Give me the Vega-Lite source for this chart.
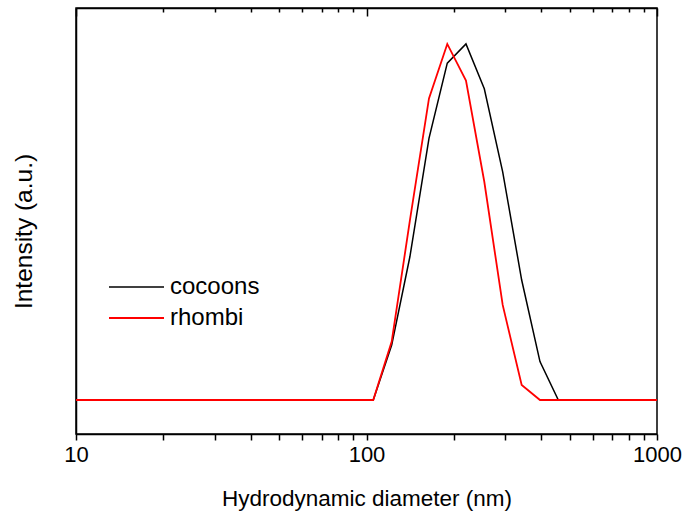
{
  "$schema": "https://vega.github.io/schema/vega-lite/v6.json",
  "width": 581,
  "height": 426,
  "autosize": {"type": "none"},
  "padding": {"left": 76, "top": 8, "right": 32, "bottom": 87},
  "background": "white",
  "config": {
    "font": "Liberation Sans",
    "view": {"stroke": "black", "strokeWidth": 1.5},
    "axis": {"grid": false, "domainColor": "black", "tickColor": "black", "labelColor": "black", "titleColor": "black", "titleFontWeight": "normal", "domainWidth": 1.5, "tickWidth": 1.5}
  },
  "data": {
    "values": [
      {"d": 10, "i": 0, "s": "cocoons"},
      {"d": 105.5, "i": 0, "s": "cocoons"},
      {"d": 122.1, "i": 15.4, "s": "cocoons"},
      {"d": 141.1, "i": 40.3, "s": "cocoons"},
      {"d": 164.1, "i": 73.5, "s": "cocoons"},
      {"d": 189.7, "i": 94.6, "s": "cocoons"},
      {"d": 220, "i": 100, "s": "cocoons"},
      {"d": 254.4, "i": 87.4, "s": "cocoons"},
      {"d": 294.3, "i": 64.1, "s": "cocoons"},
      {"d": 342.1, "i": 33.7, "s": "cocoons"},
      {"d": 395.5, "i": 10.8, "s": "cocoons"},
      {"d": 457.4, "i": 0, "s": "cocoons"},
      {"d": 1000, "i": 0, "s": "cocoons"},
      {"d": 10, "i": 0, "s": "rhombi"},
      {"d": 105.5, "i": 0, "s": "rhombi"},
      {"d": 122.1, "i": 16.4, "s": "rhombi"},
      {"d": 141.1, "i": 50.5, "s": "rhombi"},
      {"d": 164.1, "i": 84.7, "s": "rhombi"},
      {"d": 189.7, "i": 100, "s": "rhombi"},
      {"d": 220, "i": 89.7, "s": "rhombi"},
      {"d": 254.4, "i": 61.3, "s": "rhombi"},
      {"d": 294.3, "i": 26.7, "s": "rhombi"},
      {"d": 342.1, "i": 4.2, "s": "rhombi"},
      {"d": 395.5, "i": 0, "s": "rhombi"},
      {"d": 1000, "i": 0, "s": "rhombi"}
    ]
  },
  "resolve": {"axis": {"x": "independent"}},
  "layer": [
    {
      "mark": {"type": "line", "clip": true},
      "encoding": {
        "x": {
          "field": "d", "type": "quantitative",
          "scale": {"type": "log", "domain": [10, 1000], "nice": false},
          "axis": {
            "title": "Hydrodynamic diameter (nm)",
            "titleFontSize": 22.5,
            "titlePadding": 22,
            "labelFontSize": 22,
            "labelPadding": 4,
            "ticks": true,
            "tickSize": 6,
            "values": [10, 20, 30, 40, 50, 60, 70, 80, 90, 100, 200, 300, 400, 500, 600, 700, 800, 900, 1000],
            "labelExpr": "(datum.value == 10 || datum.value == 100 || datum.value == 1000) ? datum.value : ''",
            "labelFlush": false,
            "labelOverlap": false
          }
        },
        "y": {
          "field": "i", "type": "quantitative",
          "scale": {"domain": [-9.55, 110.1], "nice": false, "zero": false},
          "axis": {"title": "Intensity (a.u.)", "titleFontSize": 24.5, "labels": false, "ticks": false, "titlePadding": 40, "titleY": 223, "domainWidth": 1.5}
        },
        "color": {
          "field": "s", "type": "nominal",
          "scale": {"domain": ["cocoons", "rhombi"], "range": ["black", "#ff0000"]},
          "legend": {
            "title": null, "orient": "none", "legendX": 32, "legendY": 267,
            "symbolType": "stroke", "symbolSize": 3025, "symbolStrokeWidth": 1.5,
            "clipHeight": 24,
            "labelFontSize": 24, "labelOffset": 5, "rowPadding": 7, "labelColor": "black"
          }
        },
        "strokeWidth": {
          "field": "s", "type": "nominal",
          "scale": {"domain": ["cocoons", "rhombi"], "range": [1.5, 1.8]},
          "legend": null
        }
      }
    },
    {
      "mark": {"type": "line", "opacity": 0},
      "encoding": {
        "x": {
          "field": "d", "type": "quantitative",
          "scale": {"type": "log", "domain": [10, 1000], "nice": false},
          "axis": {
            "orient": "top", "title": null, "labels": false,
            "values": [10, 20, 30, 40, 50, 60, 70, 80, 90, 100, 200, 300, 400, 500, 600, 700, 800, 900, 1000],
            "tickSize": {"condition": {"test": "datum.value == 10 || datum.value == 100 || datum.value == 1000", "value": -8}, "value": -4}
          }
        },
        "y": {"field": "i", "type": "quantitative"}
      }
    }
  ]
}
